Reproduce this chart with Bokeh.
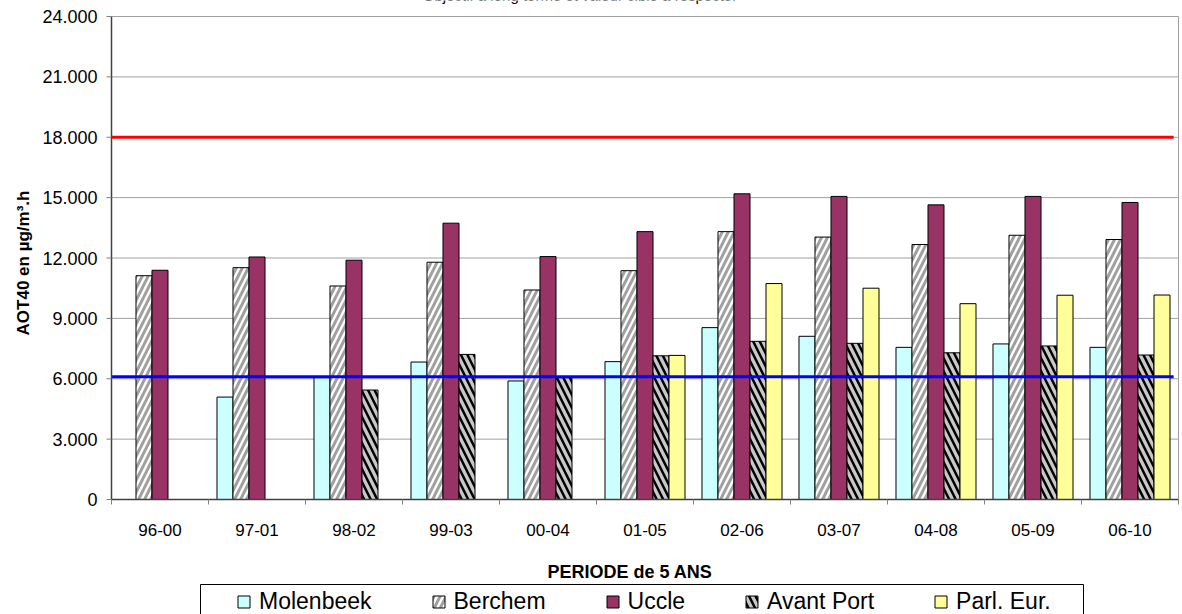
import math
import numpy as np
from bokeh.plotting import figure
from bokeh.models import ColumnDataSource, Range1d, Legend, LegendItem, BoxAnnotation
from bokeh.core.properties import value
from bokeh.transform import dodge
from bokeh.embed import file_html
from bokeh.resources import INLINE

nan = float("nan")

# ---- data ----
periods = ["96-00", "97-01", "98-02", "99-03", "00-04", "01-05",
           "02-06", "03-07", "04-08", "05-09", "06-10"]
molenbeek = [nan, 5090, 6050, 6830, 5890, 6850, 8540, 8110, 7560, 7730, 7560]
berchem = [11120, 11520, 10610, 11790, 10410, 11370, 13310, 13040, 12670, 13130, 12920]
uccle = [11390, 12050, 11890, 13730, 12070, 13310, 15190, 15060, 14640, 15060, 14760]
avant_port = [nan, nan, 5440, 7210, 6050, 7140, 7860, 7760, 7290, 7630, 7180]
parl_eur = [nan, nan, nan, nan, nan, 7160, 10730, 10500, 9730, 10150, 10160]
series_names = ["Molenbeek", "Berchem", "Uccle", "Avant Port", "Parl. Eur."]
target_value = 18000
long_term_objective = 6100
ytick_values = [0, 3000, 6000, 9000, 12000, 15000, 18000, 21000, 24000]
ytick_labels = ["0", "3.000", "6.000", "9.000", "12.000", "15.000", "18.000", "21.000", "24.000"]
y_max = 24000
title_text = "Objectif à long terme et valeur cible à respecter"
x_title = "PERIODE de 5 ANS"
y_title = "AOT40 en µg/m³.h"

FONT = "Liberation Sans"

# ---- layout (pixels) ----
W, H = 1182, 614
L, R, T, B = 111, 1178, 16, 499          # plot area inside the canvas
n = len(periods)
px_cat = (R - L) / n
px_val = (B - T) / y_max

centers = [i + 0.5 for i in range(n)]
edges = list(range(n + 1))

src = ColumnDataSource(dict(
    xc=centers,
    mol=np.array(molenbeek, dtype=float),
    ber=np.array(berchem, dtype=float),
    ucc=np.array(uccle, dtype=float),
    avp=np.array(avant_port, dtype=float),
    par=np.array(parl_eur, dtype=float),
))

p = figure(width=W, height=H,
           x_range=Range1d(-L / px_cat, (W - L) / px_cat),
           y_range=Range1d(-(H - B) / px_val, y_max + T / px_val),
           output_backend="svg", toolbar_location=None,
           x_axis_location=None, y_axis_location=None,
           min_border=0)
p.outline_line_color = None
p.background_fill_color = "white"
p.border_fill_color = "white"
p.grid.visible = False

# gridlines
p.segment(x0=0, x1=n, y0=ytick_values, y1=ytick_values, line_color="#A0A0A0", line_width=1)
# right border of the plot area
p.segment(x0=n, x1=n, y0=0, y1=y_max, line_color="#A0A0A0", line_width=1)

# bars
bw = 0.165
offsets = [-2 * bw, -bw, 0, bw, 2 * bw]
styles = [
    dict(top="mol", fill_color="#CCFFFF"),
    dict(top="ber", fill_color="white", hatch_pattern="/", hatch_color="#A0A0A0",
         hatch_scale=12, hatch_weight=3),
    dict(top="ucc", fill_color="#993366"),
    dict(top="avp", fill_color="#C8C8C8", hatch_pattern="\\", hatch_color="black",
         hatch_scale=13, hatch_weight=2.5),
    dict(top="par", fill_color="#FFFF99"),
]
renderers = []
for off, st in zip(offsets, styles):
    r = p.vbar(x=dodge("xc", off), width=bw, bottom=0, source=src,
               line_color="black", line_width=1, **st)
    renderers.append(r)

# limit lines
p.segment(x0=0, x1=n - 0.05, y0=target_value, y1=target_value, line_color="#FF0000", line_width=3)
p.segment(x0=0, x1=n - 0.05, y0=long_term_objective, y1=long_term_objective,
          line_color="#0000FF", line_width=3)

# axes lines and ticks
p.segment(x0=0, x1=0, y0=0, y1=y_max, line_color="#404040", line_width=1.5)
p.segment(x0=0, x1=n, y0=0, y1=0, line_color="#404040", line_width=1.5)
p.ray(x=0, y=ytick_values, length=5, angle=math.pi, length_units="screen",
      line_color="#808080", line_width=1)
p.ray(x=edges, y=0, length=5, angle=-math.pi / 2, length_units="screen",
      line_color="#808080", line_width=1)

# tick labels
p.text(x=0, y=ytick_values, text=ytick_labels, x_offset=-14, text_align="right",
       text_baseline="middle", text_font=value(FONT), text_font_size="18px", text_color="black")
p.text(x=centers, y=0, text=periods, y_offset=30, text_align="center",
       text_baseline="middle", text_font=value(FONT), text_font_size="17px", text_color="black")

# axis titles
p.text(x=[n / 2], y=[0], text=[x_title], x_offset=-15, y_offset=72, text_align="center",
       text_baseline="middle", text_font=value(FONT), text_font_size="18px",
       text_font_style="bold", text_color="black")
p.text(x=[0], y=[y_max / 2], text=[y_title], x_offset=-88, y_offset=5, angle=math.pi / 2,
       text_align="center", text_baseline="middle", text_font=value(FONT),
       text_font_size="17px", text_font_style="bold", text_color="black")

# chart title (cut at the top edge, as in the reference)
p.text(x=[n / 2], y=[y_max], text=[title_text], x_offset=-65, y_offset=-21, text_align="center",
       text_baseline="alphabetic", text_font=value(FONT), text_font_size="15px",
       text_color="black")

# legend
legend = Legend(items=[LegendItem(label=nm, renderers=[r]) for nm, r in zip(series_names, renderers)],
                orientation="horizontal", location=(236, -1), padding=8, spacing=59,
                glyph_width=15, glyph_height=15, label_standoff=8, label_height=24,
                label_text_font=FONT, label_text_font_size="23px", label_text_color="black",
                border_line_color=None, background_fill_alpha=0, margin=0)
p.add_layout(legend)
p.add_layout(BoxAnnotation(left=200, right=1083, top=H - 584, bottom=-20,
                           left_units="screen", right_units="screen",
                           top_units="screen", bottom_units="screen",
                           fill_color=None, fill_alpha=0, line_color="black", line_width=1,
                           line_alpha=1))

open("out.html", "w").write(file_html(p, INLINE))
